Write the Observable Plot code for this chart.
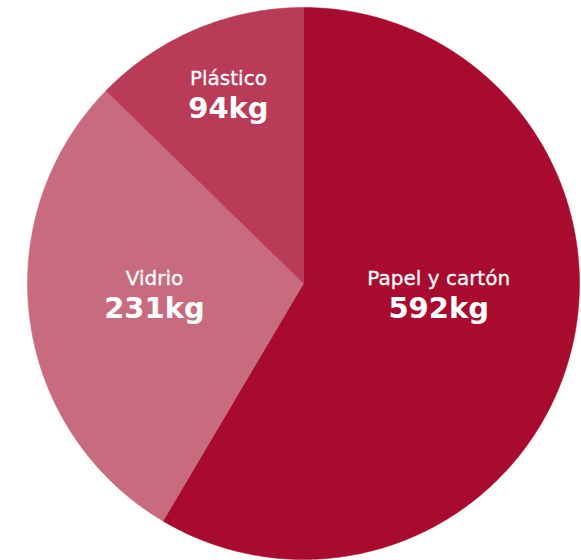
<!DOCTYPE html>
<html>
<head>
<meta charset="utf-8">
<script src="https://cdn.jsdelivr.net/npm/d3@7"></script>
<script src="https://cdn.jsdelivr.net/npm/@observablehq/plot@0.6"></script>
<style>
  html, body { margin: 0; padding: 0; background: #ffffff; }
  #chart svg { display: block; }
</style>
</head>
<body>
<div id="chart"></div>
<script>
// Data
const categories = ["Papel y cartón", "Vidrio", "Plástico"];
const kg = [592, 231, 94];
// share of the circle each slice occupies in the picture (%)
const shares = [58.5, 28.8, 12.7];
const colors = ["#a80b2d", "#c96b7e", "#b93b57"];

// Layout (chart units: pie radius = 1, y grows downward)
const W = 581, H = 560;
const cx = 303, cy = 283, R = 276;
const labelAnchors = [[0.49, 0.062], [-0.54, 0.062], [-0.272, -0.663]];

const rows = categories.map((c, i) => ({cat: c, kg: kg[i], share: shares[i]}));
const arcs = d3.pie().sort(null).value(d => d.share).startAngle(0).endAngle(2 * Math.PI)(rows);

const pts = [];
for (const a of arcs) {
  const cat = a.data.cat;
  pts.push({cat, x: 0, y: 0});
  const n = Math.max(4, Math.ceil((a.endAngle - a.startAngle) / (Math.PI / 360)));
  for (let k = 0; k <= n; k++) {
    const t = a.startAngle + (a.endAngle - a.startAngle) * k / n;
    pts.push({cat, x: Math.sin(t), y: -Math.cos(t)});
  }
  pts.push({cat, x: 0, y: 0});
}

const labels = rows.map((d, i) => ({
  cat: d.cat,
  value: d.kg + "kg",
  x: labelAnchors[i][0],
  y: labelAnchors[i][1]
}));

const chart = Plot.plot({
  width: W,
  height: H,
  margin: 0,
  style: {background: "#ffffff", fontFamily: "'DejaVu Sans', sans-serif"},
  x: {axis: null, domain: [-cx / R, (W - cx) / R], range: [0, W]},
  y: {axis: null, domain: [-cy / R, (H - cy) / R], range: [0, H]},
  color: {type: "ordinal", domain: categories, range: colors},
  marks: [
    Plot.line(pts, {x: "x", y: "y", z: "cat", fill: "cat", stroke: "cat", strokeWidth: 0.5, curve: "linear"}),
    Plot.text(labels, {
      x: "x", y: "y", text: "cat", fill: "white", stroke: "white", strokeWidth: 0.3,
      fontSize: 20, fontWeight: 500, textAnchor: "middle", lineAnchor: "bottom", dy: -16
    }),
    Plot.text(labels, {
      x: "x", y: "y", text: "value", fill: "white",
      fontSize: 29, fontWeight: "bold", textAnchor: "middle", lineAnchor: "bottom", dy: 17
    })
  ]
});
document.getElementById("chart").appendChild(chart);
</script>
</body>
</html>
